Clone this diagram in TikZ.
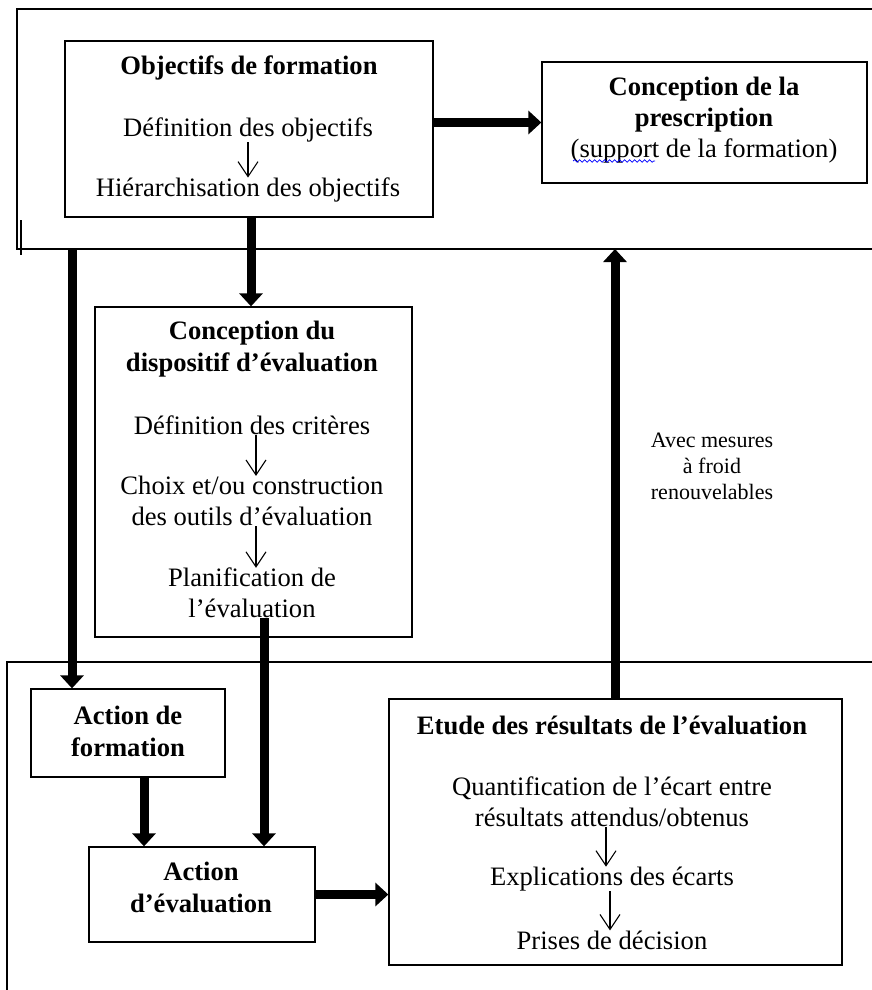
\documentclass[tikz,border=0pt]{standalone}
\usepackage{fontspec}
\setmainfont{Liberation Serif}
\usepackage{tikz}
\usetikzlibrary{arrows.meta,decorations.pathmorphing}

\tikzset{
  box/.style={draw, line width=1.3pt, inner sep=0pt},
  txt/.style={inner sep=0pt, align=center, font=\fontsize{26.6}{31}\selectfont},
  ttl/.style={inner sep=0pt, align=center, font=\fontsize{26.6}{32}\selectfont\bfseries},
  note/.style={inner sep=0pt, align=center, font=\fontsize{22}{26}\selectfont},
  bigarrow/.style={line width=9pt, -{Triangle[length=13pt,width=23pt]}},
  thinarrow/.style={line width=1.1pt, -{Straight Barb[length=15pt,width=20pt]}},
}

\begin{document}
\begin{tikzpicture}[x=1pt, y=-1pt]
\useasboundingbox (0,0) rectangle (872,990);
\draw[line width=1.4pt] (872,9) -- (17,9) -- (17,249) -- (872,249);
\draw[line width=1.4pt] (21,220) -- (21,255);
\draw[line width=1.4pt] (7,990) -- (7,662) -- (872,662);
\coordinate (fr1) at (72,249);
\coordinate (fr2) at (615,249);

\node[box, minimum width=368pt, minimum height=176pt] (obj) at (249,129) {};
\node[ttl] (objt) at (249,68) {Objectifs de formation};
\node[txt] (objd) at (248,130) {Définition des objectifs};
\node[txt] (objh) at (248,190) {Hiérarchisation des objectifs};
\draw[thinarrow] (objd) -- (objh);

\node[box, minimum width=325pt, minimum height=121pt] (presc) at (704.5,122.5) {};
\node[txt] (presct) at (704,120) {\textbf{Conception de la}\\\textbf{prescription}\\(support de la formation)};
\draw[blue, line width=0.7pt, decorate, decoration={snake, amplitude=1.3pt, segment length=5pt}] (573,161) -- (655,161);

\node[box, minimum width=317pt, minimum height=330pt] (disp) at (253.5,472) {};
\node[ttl] (dispt) at (252,349) {Conception du\\dispositif d’évaluation};
\node[txt] (dispc) at (252,425) {Définition des critères};
\node[txt] (dispo) at (252,501) {Choix et/ou construction\\des outils d’évaluation};
\node[txt] (dispp) at (252,593) {Planification de\\l’évaluation};
\draw[thinarrow] ([xshift=4pt]dispc.south) -- ([xshift=4pt]dispo.north);
\draw[thinarrow] ([xshift=4pt]dispo.south) -- ([xshift=4pt]dispp.north);

\node[box, minimum width=194pt, minimum height=88pt] (actf) at (128,733) {};
\node[ttl] (actft) at (128,731) {Action de\\formation};

\node[box, minimum width=226pt, minimum height=95pt] (acte) at (202,894.5) {};
\node[ttl] (actet) at (201,887) {Action\\d’évaluation};

\node[box, minimum width=453pt, minimum height=266pt] (etude) at (615.5,832) {};
\node[ttl] (etudet) at (612,725) {Etude des résultats de l’évaluation};
\node[txt] (etudeq) at (612,802) {Quantification de l’écart entre\\résultats attendus/obtenus};
\node[txt] (etudee) at (612,879) {Explications des écarts};
\node[txt] (etudep) at (612,940) {Prises de décision};
\draw[thinarrow] ([xshift=-6pt]etudeq.south) -- ([xshift=-6pt]etudee.north);
\draw[thinarrow] ([xshift=-2pt]etudee.south) -- ([xshift=-2pt]etudep.north);

\node[note] (mes) at (712,466) {Avec mesures\\à froid\\renouvelables};

\draw[bigarrow] (obj.east |- presc.west) -- (presc.west);
\draw[bigarrow] ([xshift=2pt]obj.south) -- ([xshift=2pt]obj.south |- disp.north);
\draw[bigarrow] (fr1) -- (fr1 |- actf.north);
\draw[bigarrow] ([xshift=12pt]dispp.south) -- ([xshift=12pt]dispp.south |- acte.north);
\draw[bigarrow] ([xshift=16pt]actf.south) -- ([xshift=16pt]actf.south |- acte.north);
\draw[bigarrow] (acte.east) -- (acte.east -| etude.west);
\draw[bigarrow] (etude.north -| fr2) -- (fr2);
\end{tikzpicture}
\end{document}
